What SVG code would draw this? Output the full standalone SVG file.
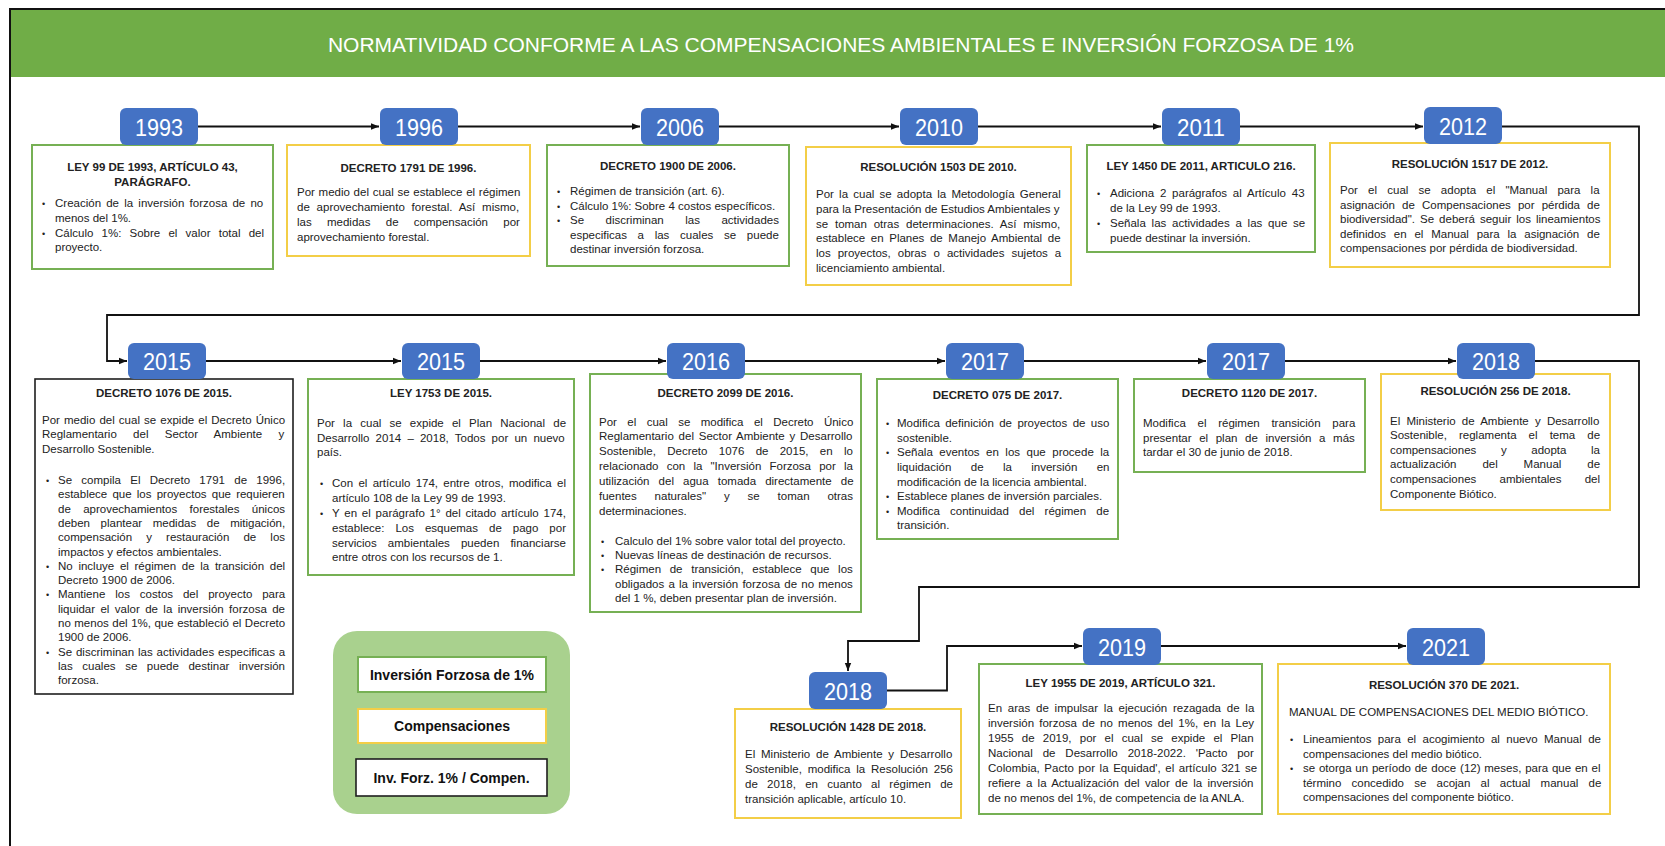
<svg xmlns="http://www.w3.org/2000/svg" width="1665" height="846" viewBox="0 0 1665 846">
<style>
.tx{font-family:"Liberation Sans",Arial,sans-serif;font-size:11.5px;fill:#222}
.tt{font-weight:bold;text-anchor:middle}
.bu{font-size:9px}
.yr{font-family:"Liberation Sans",Arial,sans-serif;font-size:24px;fill:#fff;text-anchor:middle}
.yb{fill:#4472C4}
.bg{fill:#fff;stroke:#76B054;stroke-width:2}
.by{fill:#fff;stroke:#F3CE47;stroke-width:2}
.bk{fill:#fff;stroke:#1e1e1e;stroke-width:1.6}
.cn{fill:none;stroke:#111;stroke-width:1.8}
.lg{font-family:"Liberation Sans",Arial,sans-serif;font-size:14px;font-weight:bold;fill:#111;text-anchor:middle}
</style>
<defs>
<marker id="ah" viewBox="0 0 10 10" refX="10" refY="5" markerWidth="8" markerHeight="8" markerUnits="userSpaceOnUse" orient="auto"><path d="M0,1 L10,5 L0,9 z" fill="#111"/></marker>
</defs>
<rect x="0" y="0" width="1665" height="846" fill="#fff"/>
<g id="header">
<rect x="10" y="9" width="1655" height="68" fill="#70AD47"/>
<path d="M10,846 V9 H1665" fill="none" stroke="#111" stroke-width="2"/>
<text x="841" y="51.5" font-family="Liberation Sans, Arial, sans-serif" font-size="21" fill="#fff" text-anchor="middle">NORMATIVIDAD CONFORME A LAS COMPENSACIONES AMBIENTALES E INVERSIÓN FORZOSA DE 1%</text>
</g>
<g id="connectors" class="cn" marker-end="url(#ah)">
<path d="M198,126.5 H379"/>
<path d="M458,126.5 H640"/>
<path d="M719,126.5 H899"/>
<path d="M978,126.5 H1161"/>
<path d="M1240,126.5 H1423"/>
<path d="M1502,126.5 H1639 V315 H107 V361 H127"/>
<path d="M206,361 H401"/>
<path d="M480,361 H666"/>
<path d="M745,361 H945"/>
<path d="M1024,361 H1206"/>
<path d="M1285,361 H1456"/>
<path d="M1535,361 H1639 V587 H919 V641 H848 V671"/>
<path d="M887,690.5 H947 V646 H1082"/>
<path d="M1161,646 H1406"/>
</g>
<g id="n1993">
<rect class="bg" x="32" y="145" width="241" height="124"/>
<rect class="yb" x="120" y="108" width="78" height="37" rx="6"/>
<text class="yr" x="159" y="135.5" textLength="48" lengthAdjust="spacingAndGlyphs">1993</text>
<g class="tx">
<text class="tt" x="152.5" y="170.7">LEY 99 DE 1993, ARTÍCULO 43,</text>
<text class="tt" x="152.5" y="185.6">PARÁGRAFO.</text>
<text class="bu" x="42" y="206.8">•</text><text x="55" y="206.8" word-spacing="2">Creación de la inversión forzosa de no</text>
<text x="55" y="221.7">menos del 1%.</text>
<text class="bu" x="42" y="236.6">•</text><text x="55" y="236.6" word-spacing="5">Cálculo 1%: Sobre el valor total del</text>
<text x="55" y="251.4">proyecto.</text>
</g>
</g>
<g id="n1996">
<rect class="by" x="287" y="145" width="243" height="111"/>
<rect class="yb" x="380" y="108" width="78" height="37" rx="6"/>
<text class="yr" x="419" y="135.5" textLength="48" lengthAdjust="spacingAndGlyphs">1996</text>
<g class="tx">
<text class="tt" x="408.5" y="172">DECRETO 1791 DE 1996.</text>
<text x="297" y="196.2" word-spacing="0.5">Por medio del cual se establece el régimen</text>
<text x="297" y="211.1" word-spacing="3.6">de aprovechamiento forestal. Así mismo,</text>
<text x="297" y="225.9" word-spacing="12.1">las medidas de compensación por</text>
<text x="297" y="240.8">aprovechamiento forestal.</text>
</g>
</g>
<g id="n2006">
<rect class="bg" x="547" y="145" width="242" height="121"/>
<rect class="yb" x="641" y="108" width="78" height="37" rx="6"/>
<text class="yr" x="680" y="135.5" textLength="48" lengthAdjust="spacingAndGlyphs">2006</text>
<g class="tx">
<text class="tt" x="668" y="169.7">DECRETO 1900 DE 2006.</text>
<text class="bu" x="557" y="195">•</text><text x="570" y="195">Régimen de transición (art. 6).</text>
<text class="bu" x="557" y="209.6">•</text><text x="570" y="209.6">Cálculo 1%: Sobre 4 costos específicos.</text>
<text class="bu" x="557" y="224.2">•</text><text x="570" y="224.2" word-spacing="18.3">Se discriminan las actividades</text>
<text x="570" y="238.8" word-spacing="7.5">especificas a las cuales se puede</text>
<text x="570" y="253.4">destinar inversión forzosa.</text>
</g>
</g>
<g id="n2010">
<rect class="by" x="806" y="147" width="265" height="138"/>
<rect class="yb" x="900" y="108" width="78" height="37" rx="6"/>
<text class="yr" x="939" y="135.5" textLength="48" lengthAdjust="spacingAndGlyphs">2010</text>
<g class="tx">
<text class="tt" x="938.5" y="170.7">RESOLUCIÓN 1503 DE 2010.</text>
<text x="816" y="198.3" word-spacing="2">Por la cual se adopta la Metodología General</text>
<text x="816" y="213">para la Presentación de Estudios Ambientales y</text>
<text x="816" y="227.7" word-spacing="3.6">se toman otras determinaciones. Así mismo,</text>
<text x="816" y="242.4" word-spacing="2.4">establece en Planes de Manejo Ambiental de</text>
<text x="816" y="257.1" word-spacing="3.8">los proyectos, obras o actividades sujetos a</text>
<text x="816" y="271.8">licenciamiento ambiental.</text>
</g>
</g>
<g id="n2011">
<rect class="bg" x="1087" y="145" width="228" height="107"/>
<rect class="yb" x="1162" y="108" width="78" height="37" rx="6"/>
<text class="yr" x="1201" y="135.5" textLength="48" lengthAdjust="spacingAndGlyphs">2011</text>
<g class="tx">
<text class="tt" x="1201" y="169.7">LEY 1450 DE 2011, ARTICULO 216.</text>
<text class="bu" x="1097" y="197.3">•</text><text x="1110" y="197.3" word-spacing="2.6">Adiciona 2 parágrafos al Artículo 43</text>
<text x="1110" y="212.1">de la Ley 99 de 1993.</text>
<text class="bu" x="1097" y="227">•</text><text x="1110" y="227" word-spacing="2.6">Señala las actividades a las que se</text>
<text x="1110" y="241.8">puede destinar la inversión.</text>
</g>
</g>
<g id="n2012">
<rect class="by" x="1330" y="143" width="280" height="124"/>
<rect class="yb" x="1424" y="107" width="78" height="37" rx="6"/>
<text class="yr" x="1463" y="134.5" textLength="48" lengthAdjust="spacingAndGlyphs">2012</text>
<g class="tx">
<text class="tt" x="1470" y="168">RESOLUCIÓN 1517 DE 2012.</text>
<text x="1340" y="194" word-spacing="7">Por el cual se adopta el "Manual para la</text>
<text x="1340" y="208.5" word-spacing="3.9">asignación de Compensaciones por pérdida de</text>
<text x="1340" y="223" word-spacing="1.8">biodiversidad". Se deberá seguir los lineamientos</text>
<text x="1340" y="237.5" word-spacing="4.6">definidos en el Manual para la asignación de</text>
<text x="1340" y="252">compensaciones por pérdida de biodiversidad.</text>
</g>
</g>
<g id="n1076">
<rect class="bk" x="35" y="379" width="258" height="315"/>
<rect class="yb" x="128" y="343" width="78" height="36" rx="6"/>
<text class="yr" x="167" y="370" textLength="48" lengthAdjust="spacingAndGlyphs">2015</text>
<g class="tx">
<text class="tt" x="164" y="396.9">DECRETO 1076 DE 2015.</text>
<text x="42" y="423.5" word-spacing="0.9">Por medio del cual se expide el Decreto Único</text>
<text x="42" y="438.3" word-spacing="13.1">Reglamentario del Sector Ambiente y</text>
<text x="42" y="453.2">Desarrollo Sostenible.</text>
<text class="bu" x="46" y="484">•</text><text x="58" y="484" word-spacing="6.1">Se compila El Decreto 1791 de 1996,</text>
<text x="58" y="498.3" word-spacing="2">establece que los proyectos que requieren</text>
<text x="58" y="512.6" word-spacing="9.2">de aprovechamientos forestales únicos</text>
<text x="58" y="526.9" word-spacing="7.4">deben plantear medidas de mitigación,</text>
<text x="58" y="541.2" word-spacing="10.9">compensación y restauración de los</text>
<text x="58" y="555.5">impactos y efectos ambientales.</text>
<text class="bu" x="46" y="569.8">•</text><text x="58" y="569.8" word-spacing="2.5">No incluye el régimen de la transición del</text>
<text x="58" y="584.1">Decreto 1900 de 2006.</text>
<text class="bu" x="46" y="598.4">•</text><text x="58" y="598.4" word-spacing="6.7">Mantiene los costos del proyecto para</text>
<text x="58" y="612.7" word-spacing="2.2">liquidar el valor de la inversión forzosa de</text>
<text x="58" y="627" word-spacing="0.3">no menos del 1%, que estableció el Decreto</text>
<text x="58" y="641.3">1900 de 2006.</text>
<text class="bu" x="46" y="655.6">•</text><text x="58" y="655.6" word-spacing="0.7">Se discriminan las actividades especificas a</text>
<text x="58" y="669.9" word-spacing="6.4">las cuales se puede destinar inversión</text>
<text x="58" y="684.2">forzosa.</text>
</g>
</g>
<g id="n1753">
<rect class="bg" x="308" y="379" width="266" height="196"/>
<rect class="yb" x="402" y="343" width="78" height="36" rx="6"/>
<text class="yr" x="441" y="370" textLength="48" lengthAdjust="spacingAndGlyphs">2015</text>
<g class="tx">
<text class="tt" x="441" y="396.9">LEY 1753 DE 2015.</text>
<text x="317" y="426.6" word-spacing="5">Por la cual se expide el Plan Nacional de</text>
<text x="317" y="441.5" word-spacing="3">Desarrollo 2014 – 2018, Todos por un nuevo</text>
<text x="317" y="456.4">país.</text>
<text class="bu" x="320" y="487.2">•</text><text x="332" y="487.2" word-spacing="2.1">Con el artículo 174, entre otros, modifica el</text>
<text x="332" y="502">artículo 108 de la Ley 99 de 1993.</text>
<text class="bu" x="320" y="516.9">•</text><text x="332" y="516.9" word-spacing="1.6">Y en el parágrafo 1° del citado artículo 174,</text>
<text x="332" y="531.8" word-spacing="7.8">establece: Los esquemas de pago por</text>
<text x="332" y="546.6" word-spacing="7.9">servicios ambientales pueden financiarse</text>
<text x="332" y="561.4">entre otros con los recursos de 1.</text>
</g>
</g>
<g id="n2099">
<rect class="bg" x="590" y="374" width="271" height="238"/>
<rect class="yb" x="667" y="343" width="78" height="36" rx="6"/>
<text class="yr" x="706" y="370" textLength="48" lengthAdjust="spacingAndGlyphs">2016</text>
<g class="tx">
<text class="tt" x="725.5" y="396.9">DECRETO 2099 DE 2016.</text>
<text x="599" y="425.6" word-spacing="7.2">Por el cual se modifica el Decreto Único</text>
<text x="599" y="440.4" word-spacing="1.6">Reglamentario del Sector Ambiente y Desarrollo</text>
<text x="599" y="455.3" word-spacing="8.1">Sostenible, Decreto 1076 de 2015, en lo</text>
<text x="599" y="470.2" word-spacing="5">relacionado con la "Inversión Forzosa por la</text>
<text x="599" y="485" word-spacing="5.9">utilización del agua tomada directamente de</text>
<text x="599" y="499.9" word-spacing="14.7">fuentes naturales" y se toman otras</text>
<text x="599" y="514.8">determinaciones.</text>
<text class="bu" x="601" y="544.5">•</text><text x="615" y="544.5">Calculo del 1% sobre valor total del proyecto.</text>
<text class="bu" x="601" y="558.9">•</text><text x="615" y="558.9">Nuevas líneas de destinación de recursos.</text>
<text class="bu" x="601" y="573.3">•</text><text x="615" y="573.3" word-spacing="5.5">Régimen de transición, establece que los</text>
<text x="615" y="587.7" word-spacing="1">obligados a la inversión forzosa de no menos</text>
<text x="615" y="602.1">del 1 %, deben presentar plan de inversión.</text>
</g>
</g>
<g id="n075">
<rect class="bg" x="877" y="379" width="241" height="160"/>
<rect class="yb" x="946" y="343" width="78" height="36" rx="6"/>
<text class="yr" x="985" y="370" textLength="48" lengthAdjust="spacingAndGlyphs">2017</text>
<g class="tx">
<text class="tt" x="997.5" y="399">DECRETO 075 DE 2017.</text>
<text class="bu" x="886" y="426.6">•</text><text x="897" y="426.6" word-spacing="2.2">Modifica definición de proyectos de uso</text>
<text x="897" y="441.5">sostenible.</text>
<text class="bu" x="886" y="456.4">•</text><text x="897" y="456.4" word-spacing="3.3">Señala eventos en los que procede la</text>
<text x="897" y="471.2" word-spacing="16.2">liquidación de la inversión en</text>
<text x="897" y="486.1">modificación de la licencia ambiental.</text>
<text class="bu" x="886" y="499.9">•</text><text x="897" y="499.9">Establece planes de inversión parciales.</text>
<text class="bu" x="886" y="514.8">•</text><text x="897" y="514.8" word-spacing="7">Modifica continuidad del régimen de</text>
<text x="897" y="528.6">transición.</text>
</g>
</g>
<g id="n1120">
<rect class="bg" x="1134" y="379" width="231" height="93"/>
<rect class="yb" x="1207" y="343" width="78" height="36" rx="6"/>
<text class="yr" x="1246" y="370" textLength="48" lengthAdjust="spacingAndGlyphs">2017</text>
<g class="tx">
<text class="tt" x="1249.5" y="396.9">DECRETO 1120 DE 2017.</text>
<text x="1143" y="426.6" word-spacing="8.5">Modifica el régimen transición para</text>
<text x="1143" y="441.5" word-spacing="4.4">presentar el plan de inversión a más</text>
<text x="1143" y="456.4">tardar el 30 de junio de 2018.</text>
</g>
</g>
<g id="n256">
<rect class="by" x="1381" y="374" width="229" height="136"/>
<rect class="yb" x="1457" y="343" width="78" height="36" rx="6"/>
<text class="yr" x="1496" y="370" textLength="48" lengthAdjust="spacingAndGlyphs">2018</text>
<g class="tx">
<text class="tt" x="1495.5" y="394.8">RESOLUCIÓN 256 DE 2018.</text>
<text x="1390" y="424.5" word-spacing="3">El Ministerio de Ambiente y Desarrollo</text>
<text x="1390" y="439.1" word-spacing="8.9">Sostenible, reglamenta el tema de</text>
<text x="1390" y="453.7" word-spacing="21.4">compensaciones y adopta la</text>
<text x="1390" y="468.3" word-spacing="22.7">actualización del Manual de</text>
<text x="1390" y="482.9" word-spacing="20">compensaciones ambientales del</text>
<text x="1390" y="497.5">Componente Biótico.</text>
</g>
</g>
<g id="n1428">
<rect class="by" x="735" y="709" width="226" height="109"/>
<rect class="yb" x="809" y="672" width="78" height="37" rx="6"/>
<text class="yr" x="848" y="699.5" textLength="48" lengthAdjust="spacingAndGlyphs">2018</text>
<g class="tx">
<text class="tt" x="848" y="731">RESOLUCIÓN 1428 DE 2018.</text>
<text x="745" y="758" word-spacing="2.6">El Ministerio de Ambiente y Desarrollo</text>
<text x="745" y="772.8" word-spacing="2.6">Sostenible, modifica la Resolución 256</text>
<text x="745" y="787.7" word-spacing="6.1">de 2018, en cuanto al régimen de</text>
<text x="745" y="802.6">transición aplicable, artículo 10.</text>
</g>
</g>
<g id="n2019">
<rect class="bg" x="979" y="664" width="283" height="150"/>
<rect class="yb" x="1083" y="628" width="78" height="37" rx="6"/>
<text class="yr" x="1122" y="655.5" textLength="48" lengthAdjust="spacingAndGlyphs">2019</text>
<g class="tx">
<text class="tt" x="1120.5" y="686.8">LEY 1955 DE 2019, ARTÍCULO 321.</text>
<text x="988" y="712.3" word-spacing="2.6">En aras de impulsar la ejecución rezagada de la</text>
<text x="988" y="727.2" word-spacing="2">inversión forzosa de no menos del 1%, en la Ley</text>
<text x="988" y="742" word-spacing="5">1955 de 2019, por el cual se expide el Plan</text>
<text x="988" y="756.9" word-spacing="6.7">Nacional de Desarrollo 2018-2022. 'Pacto por</text>
<text x="988" y="771.8" word-spacing="1.4">Colombia, Pacto por la Equidad', el artículo 321 se</text>
<text x="988" y="786.6" word-spacing="2.1">refiere a la Actualización del valor de la inversión</text>
<text x="988" y="801.5">de no menos del 1%, de competencia de la ANLA.</text>
</g>
</g>
<g id="n2021">
<rect class="by" x="1278" y="664" width="332" height="150"/>
<rect class="yb" x="1407" y="628" width="78" height="37" rx="6"/>
<text class="yr" x="1446" y="655.5" textLength="48" lengthAdjust="spacingAndGlyphs">2021</text>
<g class="tx">
<text class="tt" x="1444" y="689">RESOLUCIÓN 370 DE 2021.</text>
<text x="1289" y="716">MANUAL DE COMPENSACIONES DEL MEDIO BIÓTICO.</text>
<text class="bu" x="1290" y="743">•</text><text x="1303" y="743" word-spacing="3.2">Lineamientos para el acogimiento al nuevo Manual de</text>
<text x="1303" y="757.6">compensaciones del medio biótico.</text>
<text class="bu" x="1290" y="772.2">•</text><text x="1303" y="772.2" word-spacing="0.6">se otorga un período de doce (12) meses, para que en el</text>
<text x="1303" y="786.8" word-spacing="7">término concedido se acojan al actual manual de</text>
<text x="1303" y="801.4">compensaciones del componente biótico.</text>
</g>
</g>
<g id="legend">
<rect x="333" y="631" width="237" height="183" rx="24" fill="#A9D18E"/>
<rect class="bg" x="358" y="657" width="188" height="35"/>
<text class="lg" x="452" y="679.5">Inversión Forzosa de 1%</text>
<rect class="by" x="358" y="709" width="188" height="34"/>
<text class="lg" x="452" y="731">Compensaciones</text>
<rect class="bk" x="356" y="759" width="191" height="37"/>
<text class="lg" x="451.5" y="782.5">Inv. Forz. 1% / Compen.</text>
</g>
</svg>
